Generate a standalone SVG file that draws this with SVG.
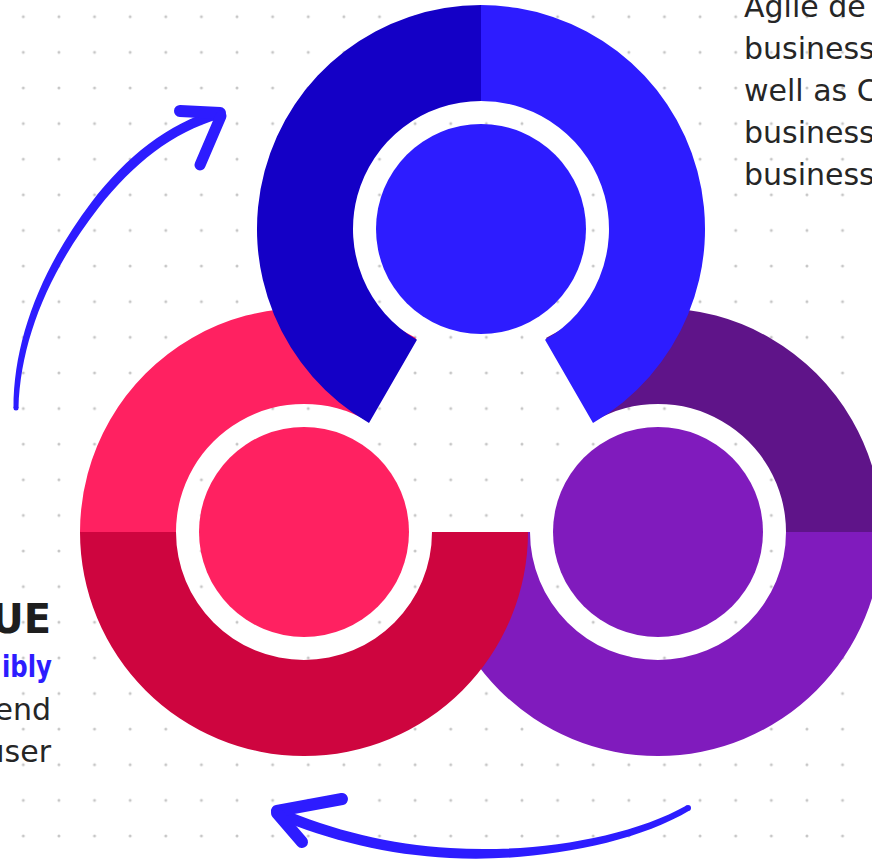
<svg xmlns="http://www.w3.org/2000/svg" width="872" height="861" viewBox="0 0 872 861">
  <defs>
    <pattern id="dots" x="5.5" y="-1.1" width="35.62" height="35.62" patternUnits="userSpaceOnUse">
      <circle cx="17.81" cy="17.81" r="1.5" fill="#c6c6c6"/>
    </pattern>
    <style>
      .body { font-family: "DejaVu Sans", "Liberation Sans", sans-serif; font-size: 30px; fill: #262626; }
      .bold { font-family: "DejaVu Sans", "Liberation Sans", sans-serif; font-weight: bold; }
      .arrow { fill: none; stroke: #2D1CFF; stroke-linecap: round; stroke-linejoin: round; }
      .shaft { fill: #2D1CFF; stroke: none; }
    </style>
  </defs>
  <rect width="872" height="861" fill="#ffffff"/>
  <rect width="872" height="861" fill="url(#dots)"/>

  <g id="text-right">
    <text class="body" x="744" y="17">Agile de</text>
    <text class="body" x="744" y="59">business</text>
    <text class="body" x="744" y="101">well as C</text>
    <text class="body" x="744" y="143">business</text>
    <text class="body" x="744" y="185">business</text>
  </g>

  <g id="text-left">
    <text class="bold" x="51" y="633" font-size="40" fill="#1e1e1e" text-anchor="end">UE</text>
    <text class="bold" x="2" y="677" font-size="30" fill="#2D1CFF" textLength="50" lengthAdjust="spacingAndGlyphs">ibly</text>
    <text class="body" x="51" y="720" text-anchor="end">end</text>
    <text class="body" x="51" y="762" text-anchor="end">user</text>
  </g>

  <g id="ring-purple">
    <path d="M546,338 A224,224 0 0 1 882,532 L786,532 A128,128 0 0 0 594,421.15 Z" fill="#5F1489"/>
    <path d="M882,532 A224,224 0 0 1 434,532 L530,532 A128,128 0 0 0 786,532 Z" fill="#801BBD"/>
    <circle cx="658" cy="532" r="105" fill="#801BBD"/>
  </g>

  <g id="ring-red">
    <path d="M528,532 A224,224 0 0 1 80,532 L176,532 A128,128 0 0 0 432,532 Z" fill="#CE053F"/>
    <path d="M80,532 A224,224 0 0 1 416,338 L368,421.15 A128,128 0 0 0 176,532 Z" fill="#FF2161"/>
    <circle cx="304" cy="532" r="105" fill="#FF2161"/>
  </g>

  <g id="ring-blue">
    <path d="M369,423 A224,224 0 0 1 481,5 L481,101 A128,128 0 0 0 417,339.85 Z" fill="#1400C6"/>
    <path d="M481,5 A224,224 0 0 1 593,423 L545,339.85 A128,128 0 0 0 481,101 Z" fill="#2D1CFF"/>
    <circle cx="481" cy="229" r="105" fill="#2D1CFF"/>
  </g>

  <g id="connectors">
    <g id="arrow-top">
      <path class="shaft" d="M18.5,408 C20.43,340.72 48.46,272 98.56,207.75 C133.58,163.49 172.32,132.43 219.4,118.8 L216.6,109.2 C167.68,123.57 126.42,156.51 91.44,202.25 C41.54,268 13.57,339.28 13.5,408 Z"/>
      <circle class="shaft" cx="16" cy="408" r="2.5"/>
      <path class="arrow" stroke-width="12" d="M180,111 L220,113"/>
      <path class="arrow" stroke-width="11" d="M221,116 L200,165"/>
    </g>
    <g id="arrow-bottom">
      <path class="shaft" d="M686.48,805.41 C628.85,838.38 529.73,853.51 450.29,848.01 C390.78,844.76 331.73,829.77 280.15,807.93 L275.85,818.07 C328.27,840.23 389.22,855.24 449.71,857.99 C530.27,862.49 631.15,845.62 689.52,810.59 Z"/>
      <circle class="shaft" cx="688" cy="808" r="3"/>
      <path class="arrow" stroke-width="12" d="M277,811 L342,799"/>
      <path class="arrow" stroke-width="12" d="M277,813 L302,842"/>
    </g>
  </g>
</svg>
